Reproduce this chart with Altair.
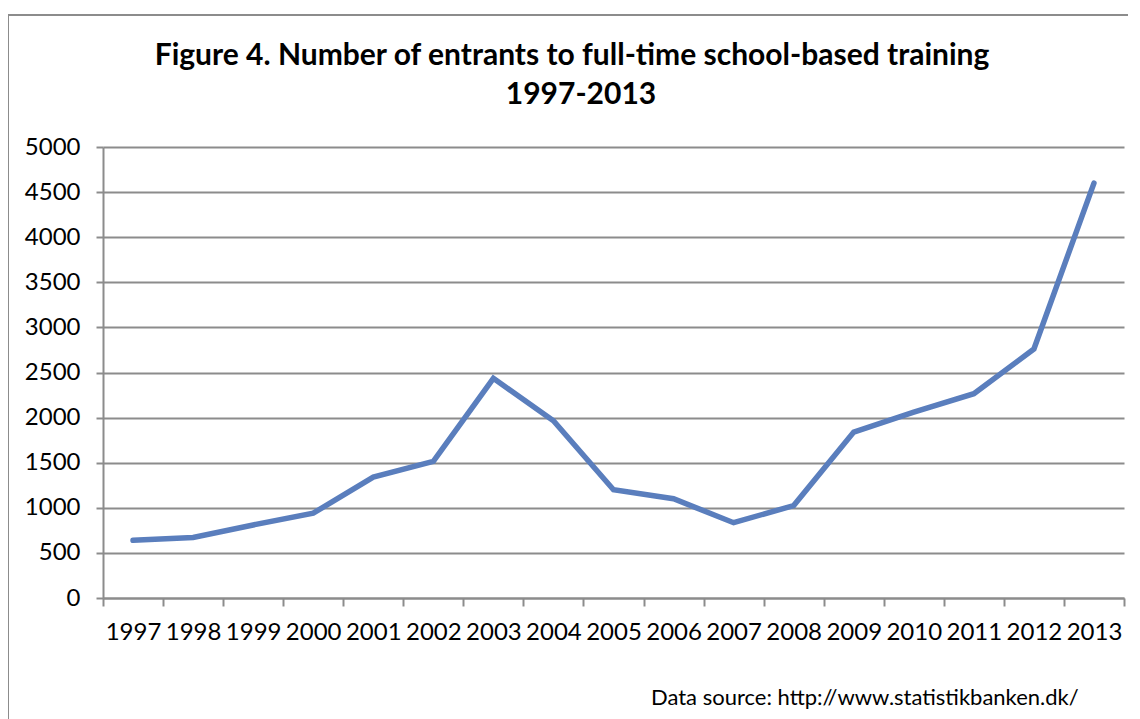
import altair as alt
import pandas as pd

years = [str(y) for y in range(1997, 2014)]
entrants = [640, 670, 810, 940, 1340, 1515, 2435, 1965, 1200, 1100, 835, 1025,
            1840, 2060, 2265, 2760, 4600]
y_ticks = list(range(0, 5001, 500))
title_lines = ["Figure 4. Number of entrants to full-time school-based training", "1997-2013"]
source_note = "Data source: http://www.statistikbanken.dk/"

df = pd.DataFrame({"year": years, "entrants": entrants})
one = pd.DataFrame({"k": [0]})

W, H = 1021, 451
PAD_L, PAD_T, PAD_R, PAD_B = 95, 139, 4, 121
GRAY = "#8c8c8c"
FONT = "Lato"

line = alt.Chart(df).mark_line(color="#5a7ebd", strokeWidth=5.5, strokeCap="round").encode(
    x=alt.X("year:O", bandPosition=0.5,
            scale=alt.Scale(type="band", paddingInner=0, paddingOuter=0),
            axis=alt.Axis(title=None, tickBand="extent", labelAngle=0, domainColor=GRAY,
                          domainWidth=2, tickColor=GRAY, tickWidth=2, tickSize=8,
                          labelFont=FONT, labelFontSize=24, labelColor="black",
                          labelPadding=14, grid=False)),
    y=alt.Y("entrants:Q", scale=alt.Scale(domain=[0, 5000], nice=False),
            axis=alt.Axis(title=None, values=y_ticks, format="d", domainColor=GRAY,
                          domainWidth=2, tickColor=GRAY, tickWidth=2, tickSize=7, grid=True,
                          gridColor=GRAY, gridWidth=2, labelFont=FONT, labelFontSize=24,
                          labelColor="black", labelPadding=16)),
)

frame_left = alt.Chart(one).mark_rule(color=GRAY, strokeWidth=2).encode(
    x=alt.value(-PAD_L), y=alt.value(-132), y2=alt.value(H + 200))
frame_top = alt.Chart(one).mark_rule(color=GRAY, strokeWidth=2).encode(
    x=alt.value(-PAD_L), x2=alt.value(W + 100), y=alt.value(-132))

title1 = alt.Chart(one).mark_text(font=FONT, fontSize=30, fontWeight="bold", align="center",
                                  baseline="alphabetic", color="black").encode(
    x=alt.value(469), y=alt.value(65 - 147), text=alt.value(title_lines[0]))
title2 = alt.Chart(one).mark_text(font=FONT, fontSize=30, fontWeight="bold", align="center",
                                  baseline="alphabetic", color="black").encode(
    x=alt.value(478), y=alt.value(104 - 147), text=alt.value(title_lines[1]))
note = alt.Chart(one).mark_text(font=FONT, fontSize=22, align="left",
                                baseline="alphabetic", color="black").encode(
    x=alt.value(651 - 103), y=alt.value(705 - 147), text=alt.value(source_note))

chart = alt.layer(frame_left, frame_top, line, title1, title2, note).properties(
    width=W, height=H,
    padding={"left": PAD_L, "top": PAD_T, "right": PAD_R, "bottom": PAD_B},
    autosize=alt.AutoSizeParams(type="none"),
    background="white",
).configure_view(stroke=None)

chart.save("out.html", embed_options={"renderer": "svg", "actions": False})
